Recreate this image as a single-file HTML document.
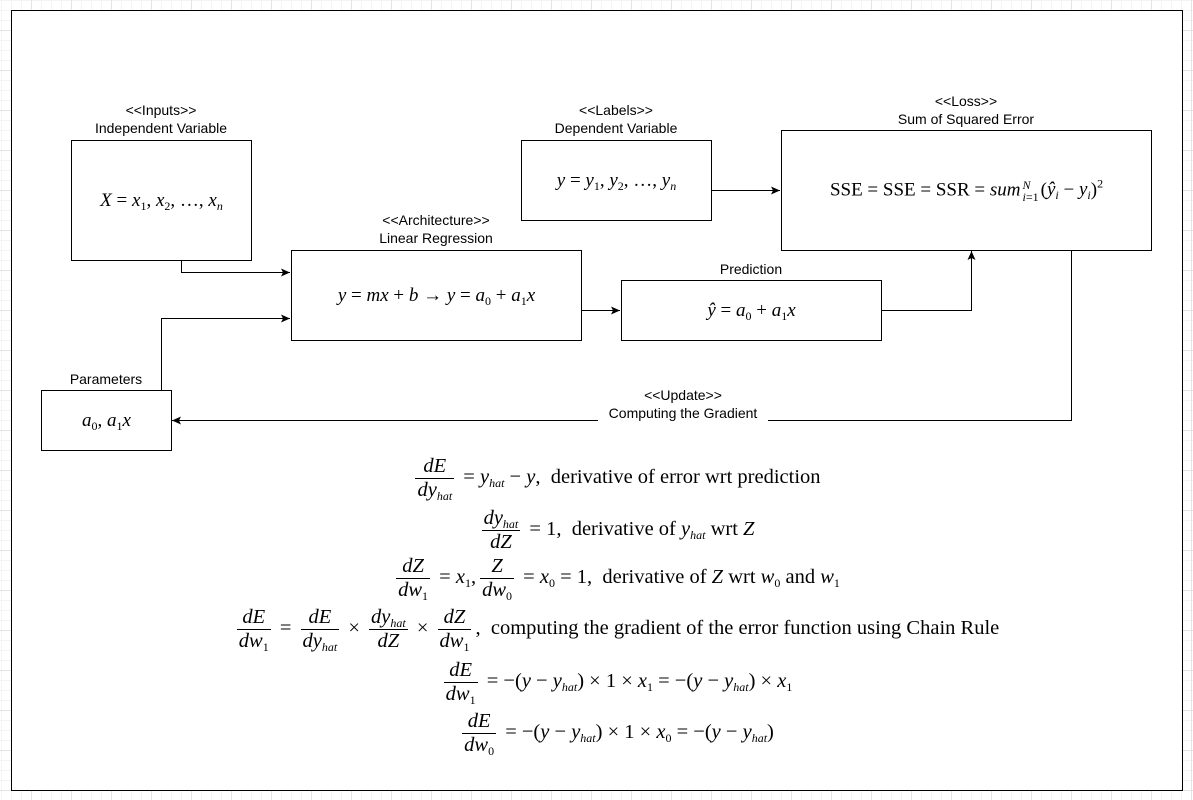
<!DOCTYPE html>
<html><head><meta charset="utf-8">
<style>
html,body{margin:0;padding:0;}
body{width:1193px;height:800px;position:relative;overflow:hidden;background:#fff;
background-image:linear-gradient(#e4e4e4 1px,transparent 1px),linear-gradient(90deg,#e4e4e4 1px,transparent 1px),linear-gradient(#f4f4f4 1px,transparent 1px),linear-gradient(90deg,#f4f4f4 1px,transparent 1px);
background-size:40px 40px,40px 40px,10px 10px,10px 10px;background-position:-9px -10px,-9px -10px,1px 0,1px 0;
font-family:"Liberation Sans",sans-serif;}
.frame{position:absolute;left:11px;top:10px;width:1170px;height:779px;border:1px solid #000;background:#fff;}
.box{position:absolute;border:1px solid #000;background:#fff;display:flex;align-items:center;justify-content:center;font-family:"Liberation Serif",serif;font-size:19px;}
.lbl{position:absolute;text-align:center;font-size:14px;line-height:18px;color:#000;}
i{font-style:italic;}
sub{font-size:12px;vertical-align:-4px;line-height:0;}
sup{font-size:12px;vertical-align:8px;line-height:0;}
.eq{position:absolute;left:0;width:1232px;text-align:center;font-family:"Liberation Serif",serif;font-size:20.5px;white-space:nowrap;}
.f{display:inline-block;text-align:center;margin:0 4px;vertical-align:middle;}
.f span{display:block;padding:0 2px;line-height:23px;}
.f span:first-child{border-bottom:1px solid #000;}
svg{position:absolute;left:0;top:0;}
</style></head><body>
<div class="frame"></div>
<svg width="1193" height="800">
<defs><marker id="a" markerWidth="10" markerHeight="10" refX="9" refY="5" orient="auto" markerUnits="userSpaceOnUse"><path d="M0,1 L9,5 L0,9 L2,5z" fill="#000"/></marker></defs>
<g stroke="#000" fill="none" stroke-width="1">
<path d="M181.5,260 V272.5 H290" marker-end="url(#a)"/>
<path d="M161.5,390 V318.5 H290" marker-end="url(#a)"/>
<path d="M581,310.5 H620" marker-end="url(#a)"/>
<path d="M711,190.5 H780" marker-end="url(#a)"/>
<path d="M881,310.5 H971.5 V251" marker-end="url(#a)"/>
<path d="M1071.5,250 V420.5 H172" marker-end="url(#a)"/>
</g>
</svg>
<div class="lbl" style="left:598px;top:386px;width:170px;background:#fff;">&lt;&lt;Update&gt;&gt;<br>Computing the Gradient</div>

<div class="lbl" style="left:61px;top:101px;width:200px;">&lt;&lt;Inputs&gt;&gt;<br>Independent Variable</div>
<div class="box" style="left:71px;top:140px;width:179px;height:119px;"><span><i>X</i> = <i>x</i><sub>1</sub>, <i>x</i><sub>2</sub>, …, <i>x<sub>n</sub></i></span></div>

<div class="lbl" style="left:516px;top:101px;width:200px;">&lt;&lt;Labels&gt;&gt;<br>Dependent Variable</div>
<div class="box" style="left:521px;top:140px;width:189px;height:79px;"><span><i>y</i> = <i>y</i><sub>1</sub>, <i>y</i><sub>2</sub>, …, <i>y<sub>n</sub></i></span></div>

<div class="lbl" style="left:866px;top:92px;width:200px;">&lt;&lt;Loss&gt;&gt;<br>Sum of Squared Error</div>
<div class="box" style="left:781px;top:130px;width:369px;height:119px;"><span>SSE = SSE = SSR = <i>sum</i><span style="display:inline-block;vertical-align:middle;font-size:12px;line-height:12px;margin:0 2px;text-align:left;"><i>N</i><br><i>i</i>=1</span>(<i>ŷ<sub>i</sub></i> − <i>y<sub>i</sub></i>)<sup>2</sup></span></div>

<div class="lbl" style="left:336px;top:211px;width:200px;">&lt;&lt;Architecture&gt;&gt;<br>Linear Regression</div>
<div class="box" style="left:291px;top:250px;width:289px;height:89px;"><span><i>y</i> = <i>mx</i> + <i>b</i> → <i>y</i> = <i>a</i><sub>0</sub> + <i>a</i><sub>1</sub><i>x</i></span></div>

<div class="lbl" style="left:651px;top:260px;width:200px;">Prediction</div>
<div class="box" style="left:621px;top:280px;width:259px;height:59px;"><span><i>ŷ</i> = <i>a</i><sub>0</sub> + <i>a</i><sub>1</sub><i>x</i></span></div>

<div class="lbl" style="left:6px;top:370px;width:200px;">Parameters</div>
<div class="box" style="left:41px;top:390px;width:129px;height:59px;"><span><i>a</i><sub>0</sub>, <i>a</i><sub>1</sub><i>x</i></span></div>

<div class="eq" style="top:455px;"><span class="f"><span><i>dE</i></span><span><i>dy<sub>hat</sub></i></span></span> = <i>y<sub>hat</sub></i> − <i>y</i>,&nbsp; derivative of error wrt prediction</div>
<div class="eq" style="top:507px;"><span class="f"><span><i>dy<sub>hat</sub></i></span><span><i>dZ</i></span></span> = 1,&nbsp; derivative of <i>y<sub>hat</sub></i> wrt <i>Z</i></div>
<div class="eq" style="top:555px;"><span class="f"><span><i>dZ</i></span><span><i>dw</i><sub>1</sub></span></span> = <i>x</i><sub>1</sub>,<span class="f"><span><i>Z</i></span><span><i>dw</i><sub>0</sub></span></span> = <i>x</i><sub>0</sub> = 1,&nbsp; derivative of <i>Z</i> wrt <i>w</i><sub>0</sub> and <i>w</i><sub>1</sub></div>
<div class="eq" style="top:606px;"><span class="f"><span><i>dE</i></span><span><i>dw</i><sub>1</sub></span></span> = <span class="f"><span><i>dE</i></span><span><i>dy<sub>hat</sub></i></span></span> × <span class="f"><span><i>dy<sub>hat</sub></i></span><span><i>dZ</i></span></span> × <span class="f"><span><i>dZ</i></span><span><i>dw</i><sub>1</sub></span></span>,&nbsp; computing the gradient of the error function using Chain Rule</div>
<div class="eq" style="top:659px;"><span class="f"><span><i>dE</i></span><span><i>dw</i><sub>1</sub></span></span> = −(<i>y</i> − <i>y<sub>hat</sub></i>) × 1 × <i>x</i><sub>1</sub> = −(<i>y</i> − <i>y<sub>hat</sub></i>) × <i>x</i><sub>1</sub></div>
<div class="eq" style="top:710px;"><span class="f"><span><i>dE</i></span><span><i>dw</i><sub>0</sub></span></span> = −(<i>y</i> − <i>y<sub>hat</sub></i>) × 1 × <i>x</i><sub>0</sub> = −(<i>y</i> − <i>y<sub>hat</sub></i>)</div>
</body></html>
